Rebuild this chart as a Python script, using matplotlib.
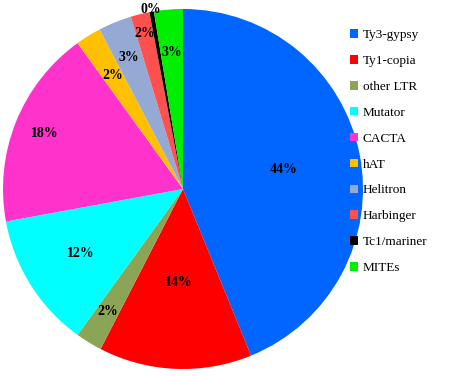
"""Pie chart of transposable element families with a side legend."""
import numpy as np
import matplotlib
matplotlib.use("Agg")
import matplotlib.pyplot as plt

families = ["Ty3-gypsy", "Ty1-copia", "other LTR", "Mutator", "CACTA",
            "hAT", "Helitron", "Harbinger", "Tc1/mariner", "MITEs"]
shares = [44.0, 13.8, 2.4, 12.2, 18.0, 2.3, 3.0, 1.7, 0.4, 2.6]
pct_labels = ["44%", "14%", "2%", "12%", "18%", "2%", "3%", "2%", "0%", "3%"]

colors = ["#0066FF", "#FF0000", "#8CA455", "#00FFFF", "#FF33CC",
          "#FFC000", "#95A9D5", "#FF5050", "#000000", "#00EE00"]
# radial position of each percentage label (fraction of radius)
label_r = [0.57, 0.52, 0.80, 0.67, 0.83, 0.74, 0.79, 0.89, 1.01, 0.76]

plt.rcParams["font.family"] = ["Liberation Serif", "DejaVu Serif"]

fig = plt.figure(figsize=(4.54, 3.76), dpi=100)
ax = fig.add_axes([3 / 454, 7 / 376, 360 / 454, 360 / 376])

wedges, _ = ax.pie(shares, colors=colors, startangle=90, counterclock=False,
                   wedgeprops=dict(linewidth=0))
for w, txt, r in zip(wedges, pct_labels, label_r):
    ang = np.deg2rad((w.theta1 + w.theta2) / 2)
    ax.text(r * np.cos(ang), r * np.sin(ang), txt, ha="center", va="center",
            fontsize=10, fontweight="bold", fontstyle="normal", color="black",
            clip_on=False)
ax.set_xlim(-1, 1); ax.set_ylim(-1, 1)
ax.set_aspect("equal")

fig.legend(wedges, families, loc="upper left", bbox_to_anchor=(345 / 454, 1 - 24 / 376),
           frameon=False, fontsize=9.5, handlelength=0.6, handleheight=0.6,
           handletextpad=0.35, labelspacing=1.05, borderaxespad=0)

fig.savefig("out.png", dpi=100)
